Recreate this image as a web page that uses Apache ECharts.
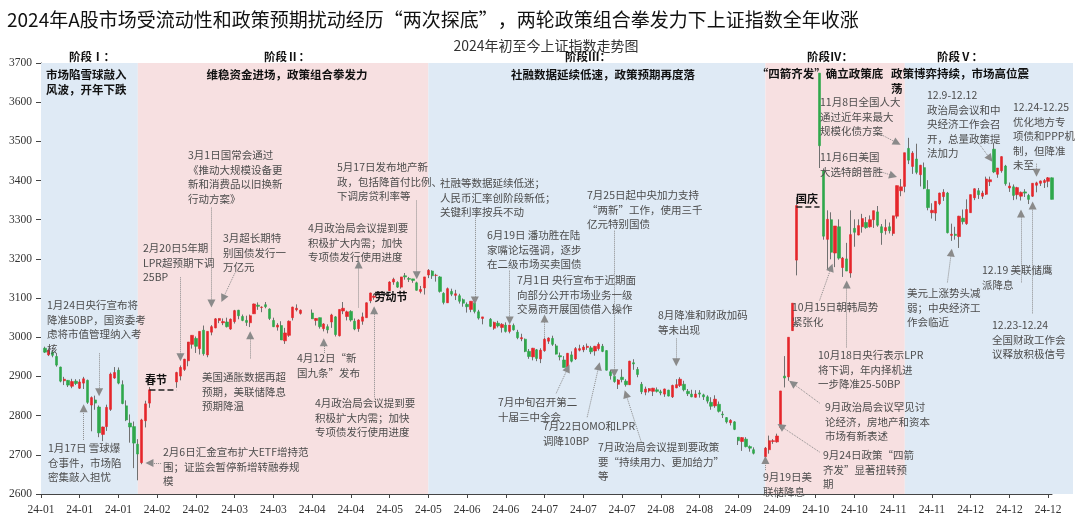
<!DOCTYPE html>
<html>
<head>
<meta charset="utf-8">
<script src="https://cdn.jsdelivr.net/npm/echarts@6.0.0/dist/echarts.min.js"></script>
<style>
html,body{margin:0;padding:0;background:#fff}
#chart{width:1080px;height:525px}
</style>
</head>
<body>
<div id="chart"></div>
<script>
var CN = 'Noto Sans CJK SC';
var SERIF = 'Liberation Serif';

// exchange holidays on weekdays (blank slots on the axis)
var holidays = ['2024-01-01','2024-02-09','2024-02-12','2024-02-13','2024-02-14','2024-02-15','2024-02-16',
  '2024-04-04','2024-04-05','2024-05-01','2024-05-02','2024-05-03','2024-06-10','2024-09-16','2024-09-17',
  '2024-10-01','2024-10-02','2024-10-03','2024-10-04','2024-10-07'];

// daily candles [open, close, low, high]
var jan = [[2972,2962,2960,2976],[2955,2967,2952,2968],[2962,2954,2949,2968],[2951,2929,2925,2958],[2924,2888,2885,2925],
  [2889,2893,2878,2899],[2890,2878,2873,2891],[2875,2887,2870,2894],[2888,2882,2878,2893],[2870,2886,2868,2893],
  [2883,2894,2868,2899],[2890,2834,2830,2892],[2827,2846,2760,2849],[2840,2832,2815,2851],[2822,2756,2745,2826],
  [2752,2771,2735,2772],[2772,2821,2761,2828],[2816,2906,2812,2910],[2896,2910,2894,2924],[2916,2883,2880,2923],
  [2879,2831,2829,2890],[2825,2789,2786,2839]];
var feb = [[2781,2771,2731,2803],[2772,2730,2666,2785],[2727,2702,2635,2740],[2680,2789,2676,2792],[2787,2830,2770,2838],
  [2832,2866,2820,2873],[2886,2910,2871,2912],[2901,2923,2890,2928],[2918,2944,2914,2945],[2940,2988,2926,2988],
  [2982,3005,2971,3005],[2997,2977,2960,3002],[2971,3015,2956,3015],[3018,2958,2953,3030],[2955,3015,2949,3015]];
var mar = [[3013,3027,3005,3031],[3024,3047,3023,3049],[3043,3048,3036,3048],[3037,3040,3031,3048],[3039,3027,3025,3050],
  [3021,3046,3019,3048],[3040,3068,3035,3070],[3069,3055,3046,3070],[3053,3043,3041,3058],[3043,3038,3029,3055],
  [3037,3055,3026,3058],[3060,3085,3060,3086],[3082,3079,3070,3089],[3076,3077,3064,3079],[3083,3078,3074,3090],
  [3072,3048,3044,3074],[3043,3027,3026,3050],[3026,3031,3017,3036],[3030,2993,2993,3041],[2991,3011,2983,3024],
  [3005,3041,3001,3043]];
var apr = [[3050,3077,3043,3078],[3070,3074,3066,3084],[3061,3069,3058,3071],[3062,3047,3047,3071],[3043,3048,3030,3049],
  [3050,3027,3022,3050],[3022,3034,3015,3036],[3027,3019,3010,3033],[3039,3057,3024,3060],[3052,3007,3002,3054],
  [3004,3071,3002,3071],[3067,3074,3059,3090],[3053,3065,3043,3068],[3066,3044,3040,3069],[3041,3021,3018,3048],
  [3022,3044,3014,3046],[3041,3052,3032,3063],[3050,3088,3050,3089],[3093,3113,3087,3114],[3102,3105,3096,3111]];
var may = [[3119,3141,3119,3143],[3141,3148,3134,3152],[3140,3128,3126,3143],[3128,3154,3124,3154],[3157,3154,3147,3164],
  [3150,3148,3141,3154],[3149,3145,3139,3149],[3139,3120,3119,3142],[3117,3122,3112,3131],[3126,3154,3109,3154],
  [3159,3171,3151,3174],[3169,3157,3149,3171],[3158,3158,3142,3162],[3154,3117,3114,3156],[3112,3089,3084,3115],
  [3088,3124,3088,3127],[3117,3110,3105,3124],[3107,3111,3095,3121],[3106,3092,3086,3111],[3096,3087,3078,3099]];
var jun = [[3084,3078,3063,3089],[3071,3092,3064,3092],[3088,3066,3061,3090],[3065,3049,3045,3070],[3048,3052,3033,3052],
  [3046,3028,3026,3049],[3023,3038,3019,3040],[3036,3029,3025,3042],[3025,3033,3012,3036],[3031,3015,3012,3038],
  [3015,3031,3010,3032],[3030,3019,3017,3035],[3013,2999,2995,3019],[2996,2999,2990,3009],[2995,2964,2962,2997],
  [2964,2951,2945,2970],[2950,2972,2941,2973],[2968,2946,2939,2970],[2945,2967,2934,2972]];
var jul = [[2966,2995,2963,2999],[2990,2998,2983,3000],[2997,2982,2978,3004],[2978,2957,2956,2983],[2953,2950,2941,2961],
  [2942,2923,2923,2952],[2924,2959,2923,2960],[2955,2939,2936,2964],[2945,2971,2942,2975],[2967,2971,2964,2981],
  [2968,2975,2962,2980],[2974,2977,2968,2984],[2973,2963,2957,2978],[2965,2977,2953,2978],[2971,2982,2966,2987],
  [2977,2964,2962,2983],[2966,2916,2915,2967],[2912,2902,2892,2917],[2900,2887,2884,2906],[2880,2891,2868,2893],
  [2898,2892,2885,2918],[2888,2879,2874,2893],[2879,2939,2878,2940]];
var aug = [[2935,2932,2917,2944],[2918,2905,2898,2924],[2880,2861,2855,2886],[2860,2868,2852,2874],[2863,2869,2859,2870],
  [2862,2870,2850,2871],[2866,2862,2859,2872],[2861,2858,2852,2866],[2855,2868,2848,2869],[2865,2850,2849,2866],
  [2848,2877,2845,2879],[2871,2879,2870,2893],[2877,2893,2873,2898],[2880,2866,2862,2889],[2862,2856,2850,2868],
  [2855,2848,2847,2866],[2847,2855,2846,2865],[2858,2855,2846,2865],[2853,2848,2840,2856],[2848,2837,2831,2852],
  [2834,2824,2815,2847],[2825,2842,2820,2852]];
var sep = [[2829,2811,2808,2836],[2804,2802,2794,2811],[2795,2784,2780,2796],[2782,2788,2775,2791],[2784,2765,2763,2786],
  [2745,2736,2725,2745],[2734,2744,2710,2745],[2740,2721,2719,2745],[2721,2717,2708,2724],[2713,2704,2701,2719],
  [2695,2717,2689,2720],[2713,2736,2703,2749],[2734,2736,2728,2740],[2733,2748,2731,2754],[2770,2863,2766,2863],
  [2901,2896,2872,2952],[2899,3000,2889,3000],[3017,3087,3016,3087],[3197,3336,3158,3358]];
var oct = [[3674,3489,3432,3674],[3425,3258,3249,3431],[3250,3301,3174,3324],[3300,3217,3199,3319],[3215,3284,3179,3284],
  [3282,3202,3198,3301],[3178,3202,3154,3205],[3200,3169,3169,3241],[3164,3262,3152,3324],[3278,3268,3231,3301],
  [3261,3285,3260,3301],[3282,3303,3267,3315],[3293,3280,3277,3307],[3282,3300,3280,3311],[3300,3323,3279,3323],
  [3320,3286,3282,3335],[3282,3267,3236,3289],[3272,3280,3262,3301]];
var nov = [[3282,3272,3265,3293],[3265,3310,3259,3310],[3309,3387,3303,3387],[3374,3384,3360,3404],[3385,3471,3370,3471],
  [3482,3452,3442,3509],[3436,3470,3417,3475],[3455,3421,3416,3494],[3415,3439,3385,3440],[3433,3380,3378,3446],
  [3377,3331,3324,3401],[3318,3324,3303,3342],[3317,3347,3297,3347],[3341,3368,3337,3369],[3359,3370,3348,3378],
  [3368,3267,3265,3371],[3260,3263,3246,3290],[3263,3260,3249,3282],[3257,3309,3228,3310],[3304,3295,3288,3326],
  [3290,3326,3287,3352]];
var dec = [[3318,3364,3318,3364],[3356,3379,3350,3380],[3374,3364,3353,3381],[3360,3368,3353,3374],[3365,3404,3363,3410],
  [3397,3402,3386,3410],[3480,3422,3419,3494],[3416,3432,3407,3432],[3425,3461,3420,3462],[3437,3392,3387,3440],
  [3381,3386,3371,3395],[3384,3362,3350,3390],[3364,3382,3352,3384],[3360,3370,3349,3372],[3371,3368,3358,3378],
  [3362,3352,3340,3366],[3360,3393,3358,3393],[3388,3394,3370,3397],[3393,3399,3386,3400],[3395,3400,3381,3404],
  [3398,3407,3383,3409],[3407,3352,3352,3408]];

// phase bands, titles
var phaseBounds = ['2024-01-01','2024-02-05','2024-05-20','2024-09-18','2024-11-07','2024-12-31'];
var phaseTitles = ['阶段Ⅰ：','阶段Ⅱ：','阶段Ⅲ：','阶段Ⅳ：','阶段Ⅴ：'];
var phaseTexts = ['市场陷雪球敲入\n风波，开年下跌','维稳资金进场，政策组合拳发力','社融数据延续低速，政策预期再度落',
  '“四箭齐发”确立政策底','政策博弈持续，市场高位震\n荡'];

// holiday gaps [from, to, level, name]
var gaps = [['2024-02-08','2024-02-19',2866,'春节'],['2024-04-30','2024-05-06',3112,'劳动节'],['2024-09-30','2024-10-08',3333,'国庆']];

// annotation arrows [fromDate, fromValue, toDate, toValue]
var arrows = [
  ['2024-01-16',2738,'2024-01-16',2819],['2024-01-22',2959,'2024-01-22',2860],['2024-02-13',2679,'2024-02-08',2679],
  ['2024-02-20',3153,'2024-02-20',2949],['2024-03-01',3331,'2024-03-01',3086],['2024-03-11',3163,'2024-03-06',3099],
  ['2024-03-15',2946,'2024-03-15',3005],['2024-04-11',2960,'2024-04-11',2987],['2024-04-24',3076,'2024-04-24',3186],
  ['2024-04-30',2847,'2024-04-30',3069],['2024-05-15',3349,'2024-05-15',3158],['2024-06-05',3315,'2024-06-05',3094],
  ['2024-06-18',3170,'2024-06-18',3043],['2024-07-01',3000,'2024-07-01',3048],['2024-07-25',3272,'2024-07-25',2908],
  ['2024-08-16',2997,'2024-08-16',2936],['2024-07-04',2857,'2024-07-09',2921],['2024-07-16',2796,'2024-07-19',2926],
  ['2024-08-05',2732,'2024-07-30',2855],['2024-09-18',2661,'2024-09-18',2687],['2024-10-08',2707,'2024-09-24',2773],
  ['2024-10-08',2832,'2024-09-27',2883],['2024-10-17',2974,'2024-10-17',3135],['2024-10-08',3094,'2024-10-11',3178],
  ['2024-10-29',3425,'2024-11-04',3412],['2024-10-29',3522,'2024-11-05',3496],['2024-12-04',3496,'2024-12-09',3456],
  ['2024-12-25',3443,'2024-12-25',3420],['2024-12-19',3140,'2024-12-19',3316],['2024-11-22',3140,'2024-11-25',3216],
  ['2024-12-24',3061,'2024-12-24',3336]];

var noteTexts = [
  '3月1日国常会通过\n《推动大规模设备更\n新和消费品以旧换新\n行动方案》',
  '2月20日5年期\nLPR超预期下调\n25BP',
  '3月超长期特\n别国债发行一\n万亿元',
  '1月24日央行宣布将\n降准50BP，国资委考\n虑将市值管理纳入考\n核',
  '1月17日 雪球爆\n仓事件，市场陷\n密集敲入担忧',
  '美国通胀数据再超\n预期，美联储降息\n预期降温',
  '2月6日汇金宣布扩大ETF增持范\n围；证监会暂停新增转融券规\n模',
  '4月12日“新\n国九条”发布',
  '4月政治局会议提到要\n积极扩大内需；加快\n专项债发行使用进度',
  '4月政治局会议提到要\n积极扩大内需；加快\n专项债发行使用进度',
  '5月17日发布地产新\n政，包括降首付比例、\n下调房贷利率等',
  '社融等数据延续低迷；\n人民币汇率创阶段新低；\n关键利率按兵不动',
  '6月19日 潘功胜在陆\n家嘴论坛强调，逐步\n在二级市场买卖国债',
  '7月1日 央行宣布于近期面\n向部分公开市场业务一级\n交易商开展国债借入操作',
  '7月25日起中央加力支持\n“两新”工作，使用三千\n亿元特别国债',
  '8月降准和财政加码\n等未出现',
  '7月中旬召开第二\n十届三中全会',
  '7月22日OMO和LPR\n调降10BP',
  '7月政治局会议提到要政策\n要“持续用力、更加给力”\n等',
  '9月19日美\n联储降息',
  '9月24日政策“四箭\n齐发”显著扭转预\n期',
  '9月政治局会议罕见讨\n论经济，房地产和资本\n市场有新表述',
  '10月18日央行表示LPR\n将下调，年内择机进\n一步降准25-50BP',
  '10月15日朝韩局势\n紧张化',
  '11月6日美国\n大选特朗普胜',
  '11月8日全国人大\n通过近年来最大\n规模化债方案',
  '12.9-12.12\n政治局会议和中\n央经济工作会召\n开，总量政策提\n法加力',
  '12.24-12.25\n优化地方专\n项债和PPP机\n制，但降准\n未至',
  '12.19 美联储鹰\n派降息',
  '美元上涨势头减\n弱；中央经济工\n作会临近',
  '12.23-12.24\n全国财政工作会\n议释放积极信号'
];

// layout of the annotation texts (left, top), same order as noteTexts
var notePos = [[188,148],[143,241],[223,231],[47,298],[48,441],[202,370],[163,445],[297,351],[308,221],[315,396],
  [337,160],[440,176],[487,228],[517,273],[587,188],[658,308],[498,395],[543,419],[598,440],[763,470],[823,448],
  [825,400],[818,348],[792,300],[820,150],[820,95],[927,88],[1013,100],[982,263],[907,286],[992,318]];

// ---- build slots: every weekday of 2024, holidays left blank
var days = [];
for (var t = Date.UTC(2024,0,1); t <= Date.UTC(2024,11,31); t += 86400000) {
  var d = new Date(t);
  var wd = d.getUTCDay();
  if (wd === 0 || wd === 6) continue;
  days.push(d.toISOString().slice(0,10));
}
var ohlc = jan.concat(feb, mar, apr, may, jun, jul, aug, sep, oct, nov, dec);
var k = 0, wickData = [], bodyData = [];
days.forEach(function(day) {
  if (holidays.indexOf(day) >= 0) {
    wickData.push(['-','-','-','-']);
    bodyData.push(['-','-','-','-']);
    return;
  }
  var c = ohlc[k++];
  wickData.push(c);
  bodyData.push([c[0], c[1], Math.min(c[0], c[1]), Math.max(c[0], c[1])]);
});

var bandColors = ['#dfeaf5','#f7e0e1','#dfeaf5','#f7e0e1','#dfeaf5'];
var areas = bandColors.map(function(c, i) {
  return [{xAxis: phaseBounds[i], itemStyle: {color: c}}, {xAxis: phaseBounds[i+1]}];
});

function txt(x, y, text, o) {
  o = o || {};
  var align = o.align || 'left', va = o.va || 'top';
  return {
    type: 'text', x: x, y: y, silent: true, z: 50,
    style: {
      text: text, fill: o.fill || '#4d4d4d',
      fontFamily: o.family || CN, fontSize: o.size || 10.5, fontWeight: o.weight || 'normal',
      lineHeight: o.lh || 14.5,
      textAlign: align, align: align, textVerticalAlign: va, verticalAlign: va
    }
  };
}

var graphics = [
  {type: 'rect', silent: true, z: -10, shape: {x: 1052, y: 63, width: 21, height: 431}, style: {fill: '#dfeaf5'}},
  txt(7, 20, '2024年A股市场受流动性和政策预期扰动经历“两次探底”，两轮政策组合拳发力下上证指数全年收涨',
      {size: 19, fill: '#111', va: 'middle'}),
  txt(546, 46, '2024年初至今上证指数走势图', {size: 14, fill: '#333', align: 'center', va: 'middle'})
];
var headX = [92, 287, 588, 830, 960];
phaseTitles.forEach(function(s, i) {
  graphics.push(txt(headX[i], 57, s, {size: 11.5, weight: 'bold', fill: '#111', align: 'center', va: 'middle'}));
});
var descStyle = {size: 11.5, weight: 'bold', fill: '#111', lh: 15};
graphics.push(txt(46, 67, phaseTexts[0], descStyle));
graphics.push(txt(287, 67, phaseTexts[1], Object.assign({align: 'center'}, descStyle)));
graphics.push(txt(603, 67, phaseTexts[2], Object.assign({align: 'center'}, descStyle)));
graphics.push(txt(820, 66, phaseTexts[3], Object.assign({align: 'center'}, descStyle)));
graphics.push(txt(891, 66, phaseTexts[4], descStyle));
var gapLabelPos = [[156, 380], [391, 297], [807, 199]];
gaps.forEach(function(g, i) {
  graphics.push(txt(gapLabelPos[i][0], gapLabelPos[i][1], g[3], {size: 11, weight: 'bold', fill: '#111', align: 'center', va: 'middle'}));
});
noteTexts.forEach(function(s, i) {
  graphics.push(txt(notePos[i][0], notePos[i][1], s));
});

var chart = echarts.init(document.getElementById('chart'));
chart.setOption({
  animation: false,
  backgroundColor: '#fff',
  grid: {left: 41, right: 28, top: 63, bottom: 31},
  xAxis: {
    type: 'category',
    data: days,
    boundaryGap: false,
    axisLine: {lineStyle: {color: '#444', width: 1}},
    axisTick: {show: true, interval: 9, length: 4, lineStyle: {color: '#444'}},
    axisLabel: {
      interval: 9, margin: 10, color: '#333', fontFamily: SERIF, fontSize: 11.5,
      formatter: function(v) { return v.slice(2, 4) + '-' + v.slice(5, 7); }
    },
    splitLine: {show: false}
  },
  yAxis: {
    type: 'value',
    min: 2600, max: 3700, interval: 100,
    axisLine: {show: true, lineStyle: {color: '#444', width: 1}},
    axisTick: {show: true, length: 5, lineStyle: {color: '#444'}},
    axisLabel: {color: '#333', fontFamily: SERIF, fontSize: 11.5, margin: 9,
      formatter: function(v) { return String(v); }},
    splitLine: {show: false}
  },
  series: [
    {
      name: 'wick',
      type: 'candlestick',
      data: wickData,
      barWidth: 1,
      z: 3,
      itemStyle: {color: '#707070', color0: '#707070', borderColor: '#707070', borderColor0: '#707070', borderWidth: 1},
      markArea: {silent: true, data: areas},
      markLine: {
        silent: true, symbol: ['none', 'none'],
        label: {show: false},
        lineStyle: {type: 'dashed', color: '#222', width: 1.5},
        data: gaps.map(function(g) { return [{coord: [g[0], g[2]]}, {coord: [g[1], g[2]]}]; })
      }
    },
    {
      name: 'body',
      type: 'candlestick',
      data: bodyData,
      barWidth: '72%',
      z: 4,
      itemStyle: {color: '#e5262b', color0: '#2fa84b', borderColor: '#e5262b', borderColor0: '#2fa84b', borderWidth: 0.6},
      markLine: {
        silent: true, symbol: ['none', 'triangle'], symbolSize: 8,
        label: {show: false},
        lineStyle: {type: 'dotted', color: '#8a8a8a', width: 1},
        data: arrows.map(function(a) { return [{coord: [a[0], a[1]]}, {coord: [a[2], a[3]]}]; })
      }
    }
  ],
  graphic: graphics
});
</script>
</body>
</html>
